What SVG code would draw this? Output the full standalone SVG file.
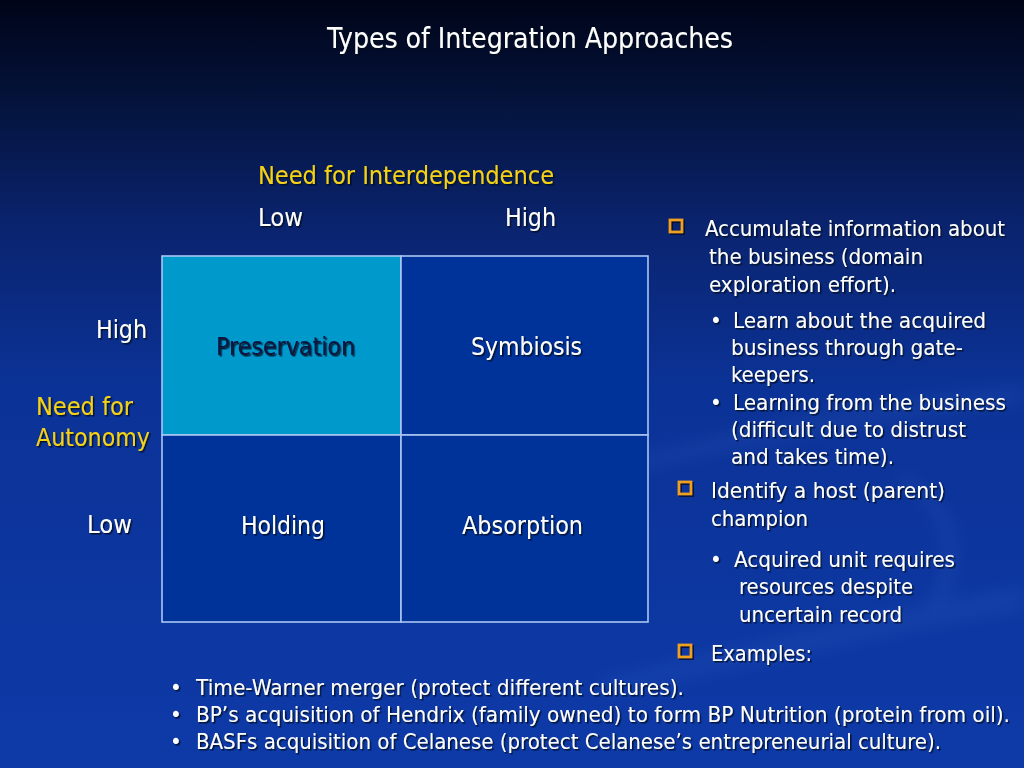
<svg xmlns="http://www.w3.org/2000/svg" width="1024" height="768" viewBox="0 0 1024 768">
<defs>
<linearGradient id="bg" x1="0" y1="0" x2="0" y2="1">
<stop offset="0" stop-color="#000418"/>
<stop offset="0.12" stop-color="#041238"/>
<stop offset="0.3" stop-color="#0a2470"/>
<stop offset="0.5" stop-color="#0b3296"/>
<stop offset="1" stop-color="#0e3aa8"/>
</linearGradient>
<filter id="sh" x="-5%" y="-20%" width="110%" height="140%">
<feDropShadow dx="1.5" dy="1.5" stdDeviation="0.6" flood-color="#000820" flood-opacity="0.85"/>
</filter>
<filter id="blur" x="-20%" y="-20%" width="140%" height="140%"><feGaussianBlur stdDeviation="8"/></filter>
</defs>
<style>
text{font-family:"DejaVu Sans Condensed","DejaVu Sans","Liberation Sans",sans-serif;fill:#ffffff;filter:url(#sh)}
.t20{font-size:22px}
.t22{font-size:24px}
.y{fill:#f5d218}
.dk{fill:#0a1540}
.cell{fill:#003399;stroke:#a9c6f2;stroke-width:1.6}
.box{fill:none;stroke:#f0a020;stroke-width:2.8}
.boxs{fill:none;stroke:#000820;stroke-width:2.8;opacity:0.8}
</style>
<rect width="1024" height="768" fill="url(#bg)"/>
<g opacity="0.1" filter="url(#blur)">
<path d="M640 455 C780 420 900 395 1024 385 L1024 405 C900 415 780 440 640 470 Z" fill="#5a8ae8"/>
<path d="M600 680 C760 640 900 610 1024 585 L1024 610 C900 630 760 665 600 695 Z" fill="#5a8ae8"/>
<path d="M900 470 C960 500 975 560 940 610 L925 605 C955 560 945 505 895 480 Z" fill="#5a8ae8"/>
</g>

<text x="327" y="48" style="font-size:29px" textLength="406" lengthAdjust="spacingAndGlyphs">Types of Integration Approaches</text>

<g id="axis-x">
<text class="t22 y" x="258" y="184" textLength="296" lengthAdjust="spacingAndGlyphs">Need for Interdependence</text>
<text class="t22" x="258" y="226" textLength="45" lengthAdjust="spacingAndGlyphs">Low</text>
<text class="t22" x="505" y="226" textLength="51" lengthAdjust="spacingAndGlyphs">High</text>
</g>
<g id="axis-y">
<text class="t22" x="96" y="338" textLength="51" lengthAdjust="spacingAndGlyphs">High</text>
<text class="t22 y" x="36" y="415" textLength="97" lengthAdjust="spacingAndGlyphs">Need for</text>
<text class="t22 y" x="36" y="446" textLength="114" lengthAdjust="spacingAndGlyphs">Autonomy</text>
<text class="t22" x="87" y="533" textLength="45" lengthAdjust="spacingAndGlyphs">Low</text>
</g>

<g id="preservation">
<rect class="cell" x="162" y="256" width="239" height="179" style="fill:#0099cc"/>
<text class="t22 dk" x="216" y="355" textLength="139" lengthAdjust="spacingAndGlyphs">Preservation</text>
</g>
<g id="symbiosis">
<rect class="cell" x="401" y="256" width="247" height="179"/>
<text class="t22" x="471" y="355" textLength="111" lengthAdjust="spacingAndGlyphs">Symbiosis</text>
</g>
<g id="holding">
<rect class="cell" x="162" y="435" width="239" height="187"/>
<text class="t22" x="241" y="534" textLength="84" lengthAdjust="spacingAndGlyphs">Holding</text>
</g>
<g id="absorption">
<rect class="cell" x="401" y="435" width="247" height="187"/>
<text class="t22" x="462" y="534" textLength="121" lengthAdjust="spacingAndGlyphs">Absorption</text>
</g>

<g id="notes">
<rect class="boxs" x="671.5" y="221.5" width="12" height="12"/>
<rect class="box" x="670" y="220" width="12" height="12"/>
<text class="t20" x="705" y="236" textLength="300" lengthAdjust="spacingAndGlyphs">Accumulate information about</text>
<text class="t20" x="709" y="264" textLength="214" lengthAdjust="spacingAndGlyphs">the business (domain</text>
<text class="t20" x="709" y="292" textLength="187" lengthAdjust="spacingAndGlyphs">exploration effort).</text>

<text class="t20" x="710" y="328">•</text>
<text class="t20" x="733" y="328" textLength="253" lengthAdjust="spacingAndGlyphs">Learn about the acquired</text>
<text class="t20" x="731" y="355" textLength="232" lengthAdjust="spacingAndGlyphs">business through gate-</text>
<text class="t20" x="731" y="382" textLength="84" lengthAdjust="spacingAndGlyphs">keepers.</text>
<text class="t20" x="710" y="410">•</text>
<text class="t20" x="733" y="410" textLength="273" lengthAdjust="spacingAndGlyphs">Learning from the business</text>
<text class="t20" x="731" y="437" textLength="235" lengthAdjust="spacingAndGlyphs">(difficult due to distrust</text>
<text class="t20" x="731" y="464" textLength="163" lengthAdjust="spacingAndGlyphs">and takes time).</text>

<rect class="boxs" x="680.5" y="483.5" width="12" height="12"/>
<rect class="box" x="679" y="482" width="12" height="12"/>
<text class="t20" x="711" y="498" textLength="234" lengthAdjust="spacingAndGlyphs">Identify a host (parent)</text>
<text class="t20" x="711" y="526" textLength="97" lengthAdjust="spacingAndGlyphs">champion</text>

<text class="t20" x="710" y="567">•</text>
<text class="t20" x="734" y="567" textLength="221" lengthAdjust="spacingAndGlyphs">Acquired unit requires</text>
<text class="t20" x="739" y="594" textLength="174" lengthAdjust="spacingAndGlyphs">resources despite</text>
<text class="t20" x="739" y="622" textLength="163" lengthAdjust="spacingAndGlyphs">uncertain record</text>

<rect class="boxs" x="680.5" y="646.5" width="12" height="12"/>
<rect class="box" x="679" y="645" width="12" height="12"/>
<text class="t20" x="711" y="661" textLength="101" lengthAdjust="spacingAndGlyphs">Examples:</text>
</g>

<g id="examples">
<text class="t20" x="170" y="695">•</text>
<text class="t20" x="196" y="695" textLength="488" lengthAdjust="spacingAndGlyphs">Time-Warner merger (protect different cultures).</text>
<text class="t20" x="170" y="722">•</text>
<text class="t20" x="196" y="722" textLength="814" lengthAdjust="spacingAndGlyphs">BP’s acquisition of Hendrix (family owned) to form BP Nutrition (protein from oil).</text>
<text class="t20" x="170" y="749">•</text>
<text class="t20" x="196" y="749" textLength="745" lengthAdjust="spacingAndGlyphs">BASFs acquisition of Celanese (protect Celanese’s entrepreneurial culture).</text>
</g>
</svg>
